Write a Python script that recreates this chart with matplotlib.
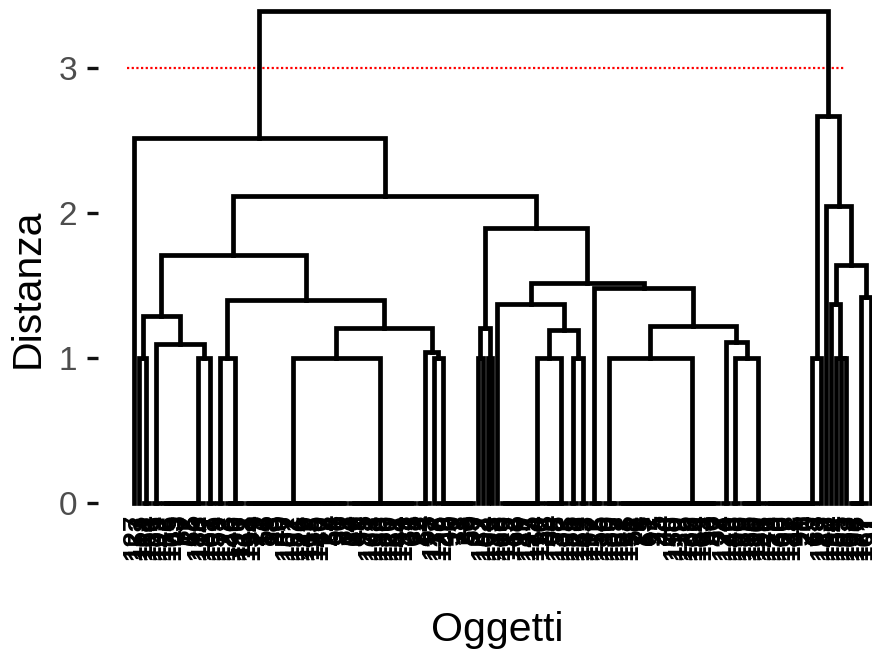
import matplotlib
matplotlib.use("Agg")
import matplotlib.pyplot as plt
from matplotlib.collections import LineCollection

plt.rcParams['font.family'] = ['Liberation Sans', 'DejaVu Sans']

# ---------------- data ----------------
# Tree spec: int n -> n identical objects joined at distance 0 (balanced),
# ('R', n) / ('L', n) -> n objects chained at distance 0,
# [height, left, right] -> merge at that distance.
n1_31 = [1.29, [1.0, 1, 2], [1.10, 2, [1.0, ('R', 9), 2]]]
n1_21a = [1.21, [1.0, 21, 14], [1.04, ('R', 3), [1.0, 1, ('L', 8)]]]
n1_40 = [1.40, [1.0, 2, 4], n1_21a]
n1_71 = [1.71, n1_31, n1_40]
n1_37 = [1.37, 1, [1.19, [1.0, ('R', 9), ('R', 5)], [1.0, 2, 2]]]
n1_48 = [1.48, 3, [1.22, [1.0, 3, [0.0, 20, 1]], [1.11, 2, [1.0, 2, ('R', 5)]]]]
n1_90 = [1.90, [1.21, [1.0, 1, 1], [1.0, 1, 1]], [1.52, n1_37, n1_48]]
cluster_a = [2.52, 1, [2.12, n1_71, n1_90]]
cluster_b = [2.67, [1.0, ('R', 11), 1],
             [2.05, 1, [1.64, [1.37, 1, [1.0, 1, [1.0, 1, 1]]], [1.42, ('R', 4), 1]]]]
root = [3.39, cluster_a, cluster_b]

cut_height = 3.0

leaf_labels = [
    127, 153, 118, 164, 131, 109, 142, 176, 105,
    43, 87, 12, 65,
    188, 114, 137, 101, 159, 172, 123, 146, 190, 111, 168, 134,
    29, 71, 56, 18, 93, 40,
    157, 102, 181, 126, 149, 113, 195, 140,
    77, 24, 58, 36, 81, 14, 62, 49, 95,
    171, 108, 133, 186, 120, 161, 144, 199,
    31, 68, 22, 84, 53,
    117, 178, 129,
    46, 90, 11, 73, 38, 59, 27,
    152, 104, 193, 138, 166, 115, 182,
    66, 19,
    147, 125, 174, 110,
    88, 34,
    158, 132, 103, 185, 121, 169, 143, 197, 112, 155, 136, 180, 107, 162, 128, 191,
    52, 79, 15, 61, 97, 25, 44, 70,
    150, 119, 175, 139, 100, 184, 163,
    33, 86, 57,
    124, 170, 145, 106, 189, 135, 156, 116, 198, 141, 179, 130, 160, 122, 187,
    48, 91, 20, 75, 63,
    173, 148, 194, 154, 165, 183, 192, 196, 177, 167, 151,
]
y_ticks = [0, 1, 2, 3]
x_title = "Oggetti"
y_title = "Distanza"


# ---------------- build tree ----------------
def balanced(n):
    if n == 1:
        return 'leaf'
    k = n // 2
    return (0.0, balanced(k), balanced(n - k))


def expand(spec):
    if isinstance(spec, int):
        return balanced(spec)
    if isinstance(spec, tuple):
        kind, n = spec
        t = 'leaf'
        for _ in range(n - 1):
            t = (0.0, t, 'leaf') if kind == 'R' else (0.0, 'leaf', t)
        return t
    h, l, r = spec
    return (h, expand(l), expand(r))


tree = expand(root)
segs = []
counter = [0]


def layout(node):
    if node == 'leaf':
        i = counter[0]
        counter[0] += 1
        return float(i), 0.0
    h, l, r = node
    xl, hl = layout(l)
    xr, hr = layout(r)
    pts = [(xl, hl), (xl, h), (xr, h), (xr, hr)]
    clean = [pts[0]]
    for p in pts[1:]:
        if p != clean[-1]:
            clean.append(p)
    if len(clean) == 1:
        clean.append(clean[0])
    segs.append(clean)
    return (xl + xr) / 2.0, h


layout(tree)
n_leaves = counter[0]

# ---------------- draw ----------------
W, H = 872, 655
fig = plt.figure(figsize=(W / 100, H / 100), dpi=100)
ax_left, ax_bottom = 98 / W, 75 / H
ax = fig.add_axes([ax_left, ax_bottom, 1 - ax_left, 1 - ax_bottom])

lc = LineCollection(segs, colors='black', linewidths=3.4,
                    joinstyle='miter', capstyle='projecting', zorder=3)
ax.add_collection(lc)

ax.axhline(cut_height, xmin=0.0375, xmax=0.965, color='#FF0000',
           linewidth=1.6, linestyle=(0, (1, 1.1)), zorder=2)

for i, lab in enumerate(leaf_labels[:n_leaves]):
    ax.text(i, -0.075, str(lab), rotation=90, ha='center', va='top',
            fontsize=20, fontweight='bold', color='black', zorder=1)

ax.set_xlim(-7.33, n_leaves - 0.7)
ax.set_ylim(-0.531, 3.469)
ax.set_yticks(y_ticks)
ax.set_yticklabels([str(t) for t in y_ticks])
ax.set_xticks([])
for s in ax.spines.values():
    s.set_visible(False)
ax.tick_params(axis='y', length=8, width=2.4, pad=7, labelsize=24,
               labelcolor='#4D4D4D', color='#111111')

ax.set_xlabel(x_title, fontsize=29.5, color='black')
ax.xaxis.set_label_coords((497 - 98) / 774, (25 - 75) / 580)
ax.xaxis.label.set_va('center')
ax.set_ylabel(y_title, fontsize=29.5, color='black')
ax.yaxis.set_label_coords((28 - 98) / 774, (367 - 75) / 580)
ax.yaxis.label.set_va('center')
ax.yaxis.label.set_ha('center')

fig.savefig("out.png", dpi=100)
